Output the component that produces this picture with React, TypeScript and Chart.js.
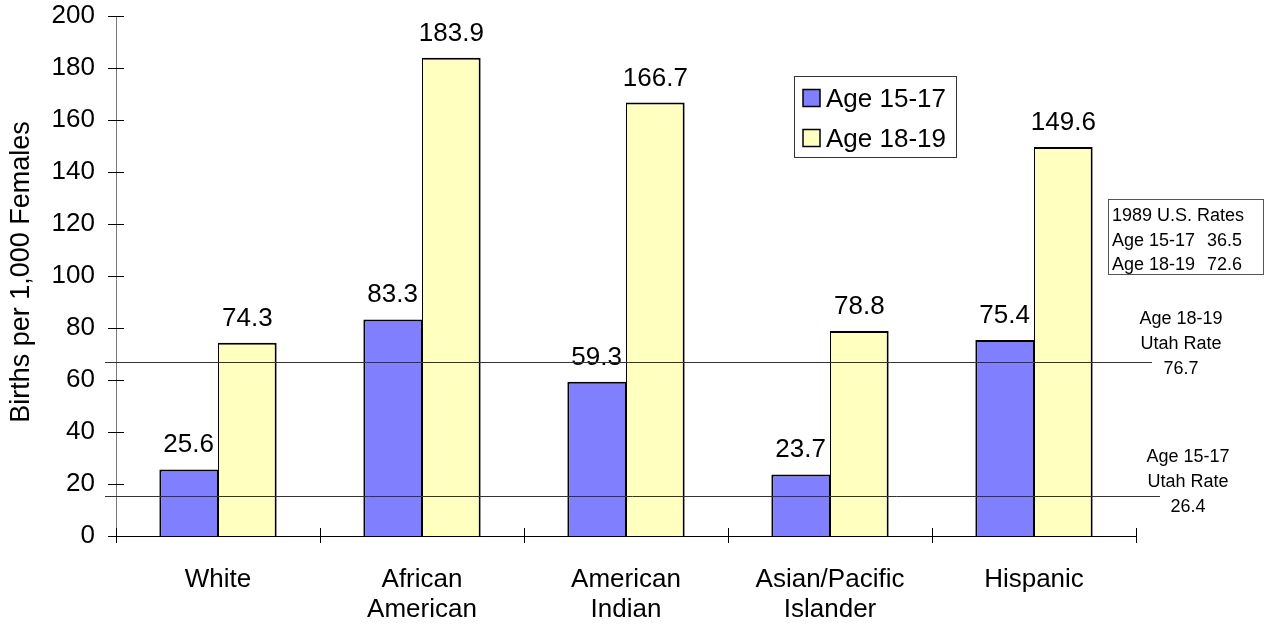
import React, { useEffect, useRef } from "react";
import { Chart, registerables } from "chart.js";

Chart.register(...registerables);

const categories: (string | string[])[] = [
  "White",
  ["African", "American"],
  ["American", "Indian"],
  ["Asian/Pacific", "Islander"],
  "Hispanic",
];
const seriesNames = ["Age 15-17", "Age 18-19"];
const age15to17 = [25.6, 83.3, 59.3, 23.7, 75.4];
const age18to19 = [74.3, 183.9, 166.7, 78.8, 149.6];
const yMin = 0;
const yMax = 200;
const yStep = 20;
const yAxisTitle = "Births per 1,000 Females";
// positions of the two Utah-rate reference lines as drawn in the picture
const utahLineLevels = [67, 15.4];
const utahRateAges = ["Age 18-19", "Age 15-17"];
const utahRateValues = ["76.7", "26.4"];
const usRateTitle = "1989 U.S. Rates";
const usRateAges = ["Age 15-17", "Age 18-19"];
const usRateValues = ["36.5", "72.6"];

const FONT = "'Liberation Sans', Arial, Helvetica, sans-serif";
const BLUE = "#8080FF";
const YELLOW = "#FFFFC0";

const overlay = {
  id: "overlay",
  beforeDatasetsDraw(chart: any) {
    const ctx = chart.ctx as CanvasRenderingContext2D;
    const ca = chart.chartArea;
    const ys = chart.scales.y;
    const xs = chart.scales.x;
    ctx.save();
    // y axis line
    ctx.strokeStyle = "#7a7a7a";
    ctx.lineWidth = 1;
    ctx.beginPath();
    ctx.moveTo(Math.round(ca.left) + 0.5, ca.top);
    ctx.lineTo(Math.round(ca.left) + 0.5, ca.bottom + 7);
    ctx.stroke();
    // y ticks
    ctx.strokeStyle = "#000";
    ys.ticks.forEach((t: any) => {
      const py = Math.round(ys.getPixelForValue(t.value)) + 0.5;
      ctx.beginPath();
      ctx.moveTo(ca.left - 8, py);
      ctx.lineTo(ca.left + 8, py);
      ctx.stroke();
    });
    // x axis
    const by = Math.round(ca.bottom) + 0.5;
    ctx.beginPath();
    ctx.moveTo(ca.left - 8, by);
    ctx.lineTo(ca.right, by);
    ctx.stroke();
    const n = categories.length;
    for (let i = 0; i <= n; i++) {
      const px = Math.round(xs.left + (i * xs.width) / n) + 0.5;
      ctx.beginPath();
      ctx.moveTo(px, ca.bottom - 8);
      ctx.lineTo(px, ca.bottom + 7);
      ctx.stroke();
    }
    // y axis title
    ctx.fillStyle = "#000";
    ctx.font = `27px ${FONT}`;
    ctx.textAlign = "center";
    ctx.textBaseline = "middle";
    ctx.translate(22, 272);
    ctx.rotate(-Math.PI / 2);
    ctx.fillText(yAxisTitle, 0, 0);
    ctx.restore();
  },
  afterDatasetsDraw(chart: any) {
    const ctx = chart.ctx as CanvasRenderingContext2D;
    const ys = chart.scales.y;
    ctx.save();
    // value labels
    ctx.fillStyle = "#000";
    ctx.font = `26px ${FONT}`;
    ctx.textAlign = "center";
    ctx.textBaseline = "alphabetic";
    chart.data.datasets.forEach((ds: any, di: number) => {
      const meta = chart.getDatasetMeta(di);
      meta.data.forEach((bar: any, i: number) => {
        ctx.fillText(Number(ds.data[i]).toFixed(1), bar.x, bar.y - 17);
      });
    });
    // reference lines
    ctx.strokeStyle = "#333";
    ctx.lineWidth = 1;
    const ends = [1152, 1160];
    utahLineLevels.forEach((v, i) => {
      const py = Math.round(ys.getPixelForValue(v)) + 0.5;
      ctx.beginPath();
      ctx.moveTo(105, py);
      ctx.lineTo(ends[i], py);
      ctx.stroke();
    });
    // Utah rate labels
    ctx.font = `18px ${FONT}`;
    ctx.textBaseline = "middle";
    ctx.textAlign = "center";
    const utahPos = [
      { x: 1181, y: 319 },
      { x: 1188, y: 457 },
    ];
    utahRateAges.forEach((age, i) => {
      const p = utahPos[i];
      ctx.fillText(age, p.x, p.y);
      ctx.fillText("Utah Rate", p.x, p.y + 25);
      ctx.fillText(utahRateValues[i], p.x, p.y + 50);
    });
    // US rates box
    ctx.fillStyle = "#fff";
    ctx.fillRect(1108, 199, 156, 75);
    ctx.strokeStyle = "#555";
    ctx.strokeRect(1108.5, 199.5, 155, 75);
    ctx.fillStyle = "#000";
    ctx.textAlign = "left";
    ctx.fillText(usRateTitle, 1112, 216);
    usRateAges.forEach((age, i) => {
      ctx.fillText(age, 1112, 241 + i * 24.5);
      ctx.fillText(usRateValues[i], 1207, 241 + i * 24.5);
    });
    // legend
    ctx.fillStyle = "#fff";
    ctx.fillRect(794, 76, 162, 81);
    ctx.strokeStyle = "#333";
    ctx.strokeRect(794.5, 76.5, 162, 81);
    ctx.font = `26px ${FONT}`;
    chart.data.datasets.forEach((ds: any, i: number) => {
      const cy = 98 + i * 40;
      ctx.fillStyle = ds.backgroundColor;
      ctx.fillRect(803, cy - 8.5, 17, 17);
      ctx.strokeStyle = "#000";
      ctx.lineWidth = 1.5;
      ctx.strokeRect(803, cy - 8.5, 17, 17);
      ctx.fillStyle = "#000";
      ctx.textAlign = "left";
      ctx.textBaseline = "middle";
      ctx.fillText(ds.label, 826, cy + 2);
    });
    ctx.restore();
  },
};

export default function App() {
  const ref = useRef<HTMLCanvasElement | null>(null);
  useEffect(() => {
    if (!ref.current) return;
    Chart.defaults.font.family = FONT;
    Chart.defaults.color = "#000";
    const chart = new Chart(ref.current, {
      type: "bar",
      data: {
        labels: categories,
        datasets: [
          {
            label: seriesNames[0],
            data: age15to17,
            backgroundColor: BLUE,
            borderColor: "#000",
            borderWidth: { top: 2, left: 2, right: 1, bottom: 0 },
            categoryPercentage: 0.575,
            barPercentage: 1,
          },
          {
            label: seriesNames[1],
            data: age18to19,
            backgroundColor: YELLOW,
            borderColor: "#000",
            borderWidth: { top: 2, left: 1, right: 2, bottom: 0 },
            categoryPercentage: 0.575,
            barPercentage: 1,
          },
        ],
      },
      options: {
        responsive: false,
        animation: false,
        devicePixelRatio: 1,
        layout: { padding: { left: 0, right: 129, top: 16, bottom: 0 } },
        plugins: {
          legend: { display: false },
          tooltip: { enabled: false },
          title: { display: false },
        },
        scales: {
          x: {
            offset: true,
            grid: { display: false, drawTicks: false },
            border: { display: false },
            ticks: {
              font: { size: 26, lineHeight: 30 / 26 },
              padding: 29,
              maxRotation: 0,
              autoSkip: false,
              color: "#000",
            },
            afterFit: (s: any) => {
              s.height = 94;
              s.paddingLeft = 0;
              s.paddingRight = 0;
            },
          },
          y: {
            min: yMin,
            max: yMax,
            grid: { display: false, drawTicks: false },
            border: { display: false },
            ticks: {
              stepSize: yStep,
              font: { size: 26 },
              padding: 21,
              color: "#000",
            },
            afterFit: (s: any) => {
              s.width = 116;
              s.paddingTop = 0;
              s.paddingBottom = 0;
            },
          },
        },
      },
      plugins: [overlay],
    });
    return () => chart.destroy();
  }, []);
  return (
    <div style={{ position: "absolute", left: 0, top: 0, width: 1265, height: 630, background: "#fff" }}>
      <canvas ref={ref} width={1265} height={630} />
    </div>
  );
}
